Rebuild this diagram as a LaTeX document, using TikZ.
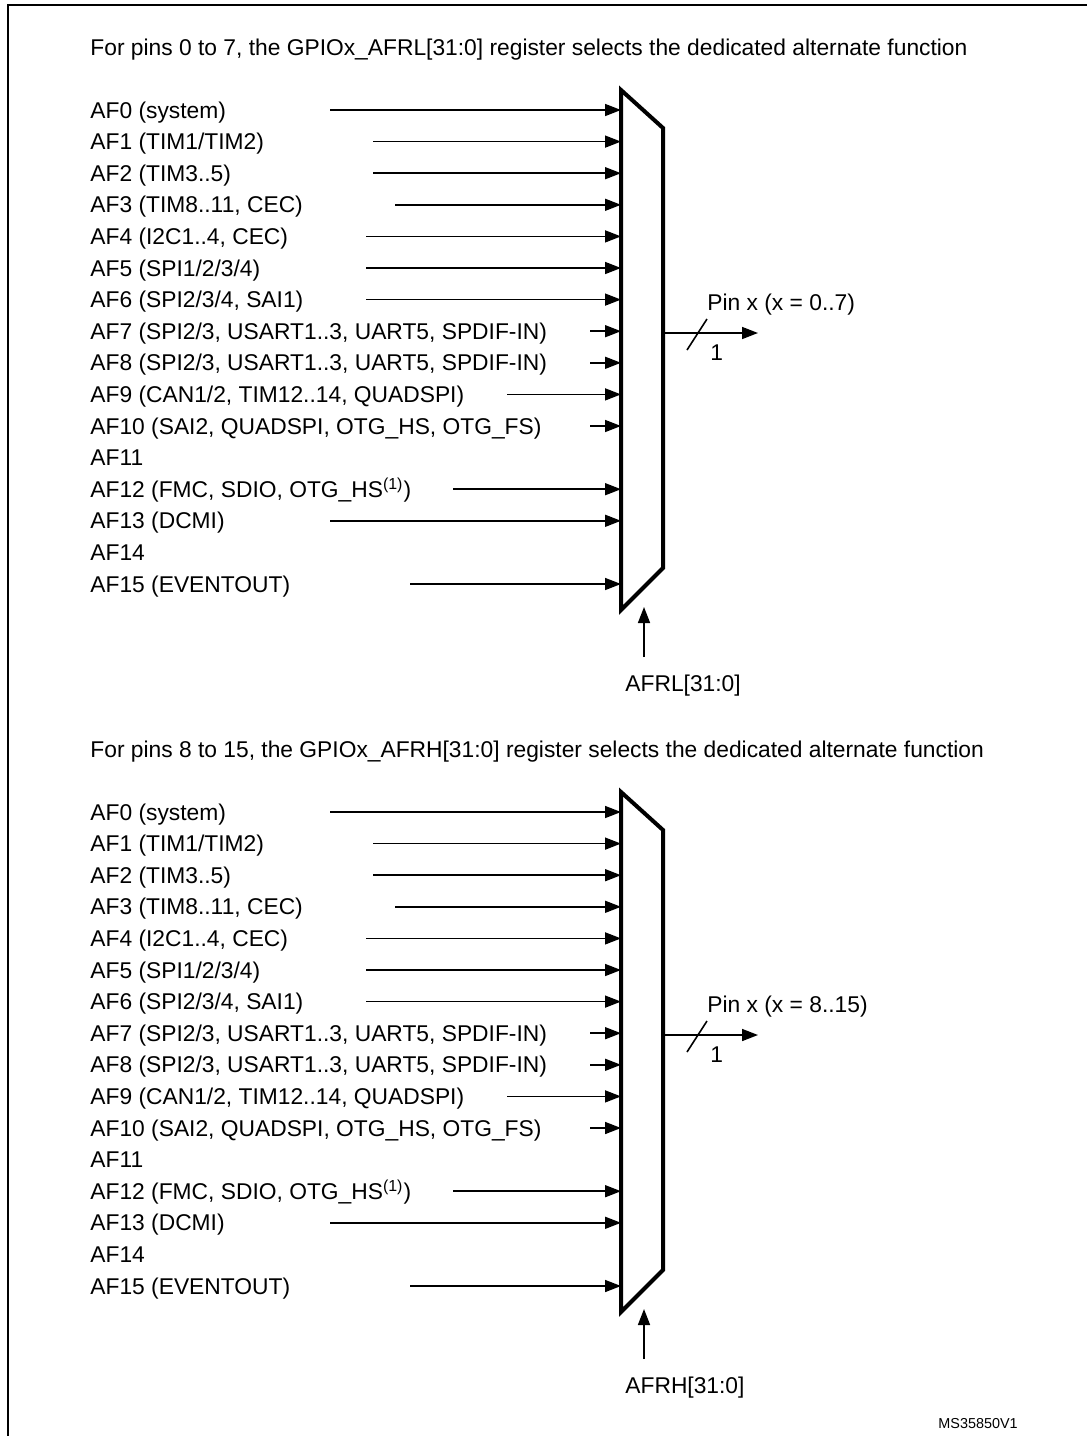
\documentclass[tikz,border=0pt]{standalone}
\usepackage{fontspec}
\setmainfont{Liberation Sans}
\usetikzlibrary{arrows.meta}
\tikzset{
  lbl/.style={anchor=base west,inner sep=0pt,font=\fontsize{11.4}{14}\selectfont},
  arr/.style={line width=0.8pt,-{Triangle[length=8pt,width=6pt]}},
  muxline/.style={line width=2pt,line join=miter},
}
\begin{document}
\begin{tikzpicture}[x=0.5pt,y=-0.5pt]
\useasboundingbox (0,0) rectangle (1087,1436);

% frame
\draw[line width=1pt] (8,1440) -- (8,5) -- (1090,5);

\foreach \off/\lo/\hi/\reg/\pins in {0/0/7/AFRL/0..7, 702/8/15/AFRH/8..15}
{
\begin{scope}[shift={(0,\off)}]
\node[lbl] (title) at (90,55) {For pins \lo{} to \hi, the GPIOx\_\reg[31:0] register selects the dedicated alternate function};

% inputs
\foreach \i/\txt in {0/{AF0 (system)},1/{AF1 (TIM1/TIM2)},2/{AF2 (TIM3..5)},
  3/{AF3 (TIM8..11, CEC)},4/{AF4 (I2C1..4, CEC)},5/{AF5 (SPI1/2/3/4)},
  6/{AF6 (SPI2/3/4, SAI1)},7/{AF7 (SPI2/3, USART1..3, UART5, SPDIF-IN)},
  8/{AF8 (SPI2/3, USART1..3, UART5, SPDIF-IN)},9/{AF9 (CAN1/2, TIM12..14, QUADSPI)},
  10/{AF10 (SAI2, QUADSPI, OTG\_HS, OTG\_FS)},11/{AF11},
  12/{AF12 (FMC, SDIO, OTG\_HS\textsuperscript{(1)})},13/{AF13 (DCMI)},14/{AF14},
  15/{AF15 (EVENTOUT)}}
  \node[lbl] (af\i) at (90,118+31.6*\i) {\txt};
\foreach \i/\xs in {0/330,1/373,2/373,3/395,4/366,5/366,6/366,7/590,8/590,
  9/507,10/590,12/453,13/330,15/410}
  {\coordinate (s\i) at (\xs,110+31.6*\i);
  \coordinate (e\i) at (621,110+31.6*\i);
  \draw[arr] (s\i) -- (e\i);}

% multiplexer
\draw[muxline] (621,90) -- (663,128) -- (663,568) -- (621,610) -- cycle;

% output
\coordinate (oin) at (663,333);
\coordinate (oout) at (758,333);
\draw[arr] (oin) -- (oout);
\draw[line width=0.8pt] (687,350) -- (707,319);
\node[lbl] (width) at (710,360) {1};
\node[lbl] (pin) at (707,310) {Pin x (x = \pins)};

% select
\coordinate (sel) at (644,657);
\coordinate (selt) at (644,607);
\draw[arr] (sel) -- (selt);
\node[lbl] (regname) at (625,691) {\reg[31:0]};
\end{scope}
}

\node[anchor=base west,inner sep=0pt,font=\fontsize{7.2}{9}\selectfont] (ref) at (938,1428) {MS35850V1};
\end{tikzpicture}
\end{document}
